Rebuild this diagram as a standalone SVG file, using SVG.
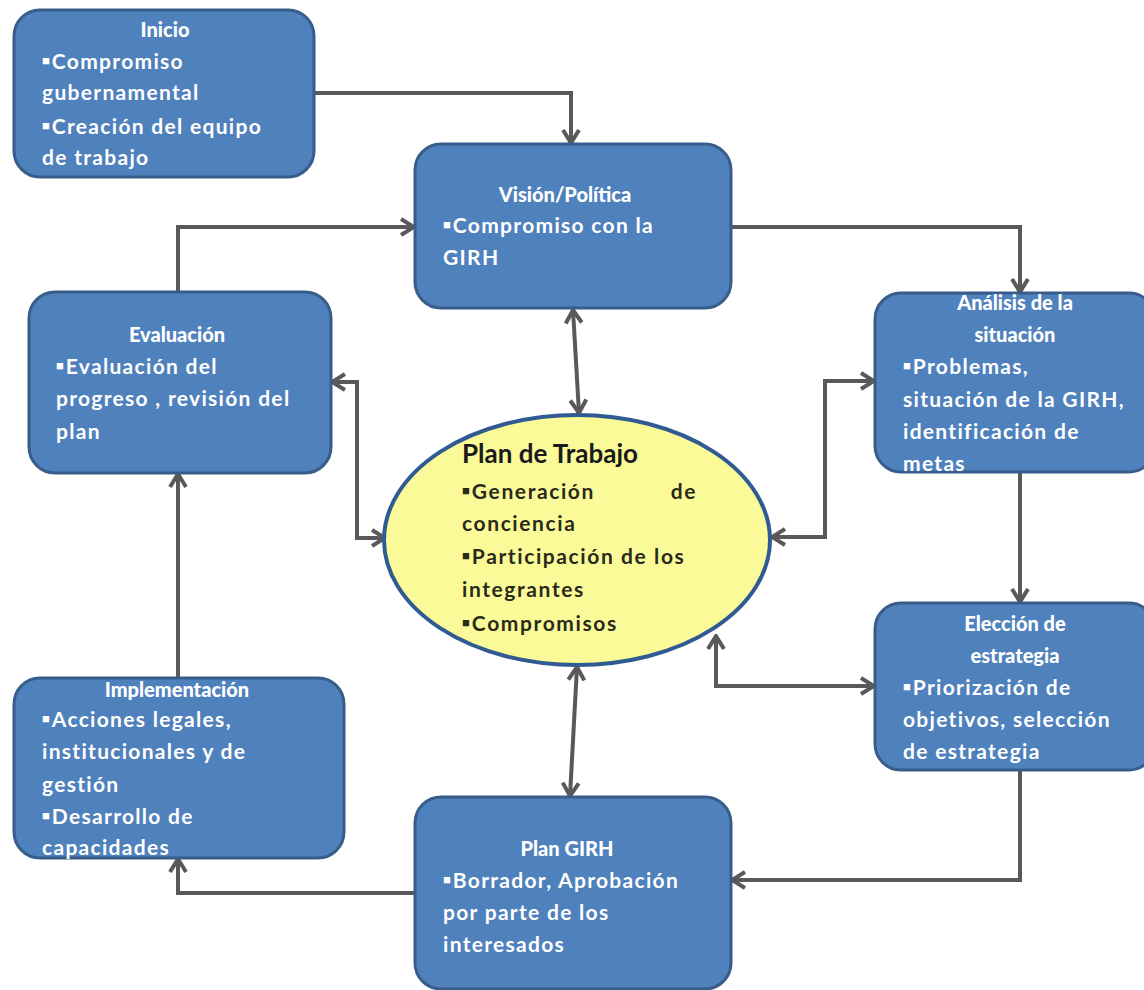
<svg xmlns="http://www.w3.org/2000/svg" width="1144" height="990" viewBox="0 0 1144 990">
<style>
.box{fill:#4f81bd;stroke:#385d8a;stroke-width:3}
.ell{fill:#fafa98;stroke:#2f5b92;stroke-width:4}
.t{font-family:Lato,"Liberation Sans",sans-serif;font-weight:900;font-size:20px;fill:#ffffff;text-anchor:middle}
.b{font-family:Lato,"Liberation Sans",sans-serif;font-weight:bold;font-size:21px;fill:#ffffff;letter-spacing:1.3px}
.et{font-family:Lato,"Liberation Sans",sans-serif;font-weight:bold;font-size:26px;fill:#1a1a1a}
.eb{font-family:Lato,"Liberation Sans",sans-serif;font-weight:bold;font-size:21px;fill:#2a2a1a;letter-spacing:1.6px}
.bu{font-size:13px;letter-spacing:2px}
.c{fill:none;stroke:#595959;stroke-width:4;stroke-linejoin:miter}
</style>
<defs>
<marker id="ah" markerUnits="userSpaceOnUse" viewBox="0 0 20 20" markerWidth="20" markerHeight="20" refX="18" refY="10" orient="auto-start-reverse">
<path d="M5,2 L18,10 L5,18" fill="none" stroke="#595959" stroke-width="4"/>
</marker>
</defs>
<g id="connectors">
<path class="c" d="M314,93 H571 V143" marker-end="url(#ah)"/>
<path class="c" d="M178,292 V227 H414" marker-end="url(#ah)"/>
<path class="c" d="M731,227 H1020 V292" marker-end="url(#ah)"/>
<path class="c" d="M1020,472 V602" marker-end="url(#ah)"/>
<path class="c" d="M1020,770 V880 H732" marker-end="url(#ah)"/>
<path class="c" d="M415,893 H178 V859" marker-end="url(#ah)"/>
<path class="c" d="M178,678 V474" marker-end="url(#ah)"/>
<path class="c" d="M573,310 L579,413" marker-start="url(#ah)" marker-end="url(#ah)"/>
<path class="c" d="M577,667 L570,796" marker-start="url(#ah)" marker-end="url(#ah)"/>
<path class="c" d="M332,382 H357 V538 H385" marker-start="url(#ah)" marker-end="url(#ah)"/>
<path class="c" d="M874,381 H825 V537 H772" marker-start="url(#ah)" marker-end="url(#ah)"/>
<path class="c" d="M874,686 H716 V636" marker-start="url(#ah)" marker-end="url(#ah)"/>
</g>
<g id="inicio">
<rect class="box" x="14" y="10" width="300" height="167" rx="26"/>
<text class="t" x="165" y="37">Inicio</text>
<text class="b" x="42" y="69"><tspan class="bu" dy="-4">■</tspan><tspan dy="4">Compromiso</tspan></text>
<text class="b" x="42" y="100">gubernamental</text>
<text class="b" x="42" y="134"><tspan class="bu" dy="-4">■</tspan><tspan dy="4">Creación del equipo</tspan></text>
<text class="b" x="42" y="165">de trabajo</text>
</g>
<g id="vision">
<rect class="box" x="415" y="144" width="316" height="164" rx="26"/>
<text class="t" x="565" y="202">Visión/Política</text>
<text class="b" x="443" y="233"><tspan class="bu" dy="-4">■</tspan><tspan dy="4">Compromiso con la</tspan></text>
<text class="b" x="443" y="265">GIRH</text>
</g>
<g id="analisis">
<rect class="box" x="875" y="293" width="280" height="179" rx="26"/>
<text class="t" x="1015" y="310">Análisis de la</text>
<text class="t" x="1015" y="342">situación</text>
<text class="b" x="903" y="374"><tspan class="bu" dy="-4">■</tspan><tspan dy="4">Problemas,</tspan></text>
<text class="b" x="903" y="407">situación de la GIRH,</text>
<text class="b" x="903" y="439">identificación de</text>
<text class="b" x="903" y="471">metas</text>
</g>
<g id="eleccion">
<rect class="box" x="875" y="603" width="280" height="167" rx="26"/>
<text class="t" x="1015" y="631">Elección de</text>
<text class="t" x="1015" y="663">estrategia</text>
<text class="b" x="903" y="695"><tspan class="bu" dy="-4">■</tspan><tspan dy="4">Priorización de</tspan></text>
<text class="b" x="903" y="727">objetivos, selección</text>
<text class="b" x="903" y="759">de estrategia</text>
</g>
<g id="plangirh">
<rect class="box" x="415" y="797" width="316" height="192" rx="26"/>
<text class="t" x="567" y="856">Plan GIRH</text>
<text class="b" x="443" y="888"><tspan class="bu" dy="-4">■</tspan><tspan dy="4">Borrador, Aprobación</tspan></text>
<text class="b" x="443" y="920">por parte de los</text>
<text class="b" x="443" y="952">interesados</text>
</g>
<g id="implementacion">
<rect class="box" x="14" y="678" width="330" height="180" rx="26"/>
<text class="t" x="177" y="697">Implementación</text>
<text class="b" x="42" y="727"><tspan class="bu" dy="-4">■</tspan><tspan dy="4">Acciones legales,</tspan></text>
<text class="b" x="42" y="759">institucionales y de</text>
<text class="b" x="42" y="792">gestión</text>
<text class="b" x="42" y="824"><tspan class="bu" dy="-4">■</tspan><tspan dy="4">Desarrollo de</tspan></text>
<text class="b" x="42" y="855">capacidades</text>
</g>
<g id="evaluacion">
<rect class="box" x="29" y="292" width="302" height="181" rx="26"/>
<text class="t" x="177" y="342">Evaluación</text>
<text class="b" x="56" y="374"><tspan class="bu" dy="-4">■</tspan><tspan dy="4">Evaluación del</tspan></text>
<text class="b" x="56" y="406">progreso , revisión del</text>
<text class="b" x="56" y="439">plan</text>
</g>
<g id="plantrabajo">
<ellipse class="ell" cx="577" cy="540" rx="193" ry="125"/>
<text class="et" x="462" y="463">Plan de Trabajo</text>
<text class="eb" x="462" y="499"><tspan class="bu" dy="-4">■</tspan><tspan dy="4">Generación</tspan></text>
<text class="eb" x="697" y="499" text-anchor="end">de</text>
<text class="eb" x="462" y="531">conciencia</text>
<text class="eb" x="462" y="564"><tspan class="bu" dy="-4">■</tspan><tspan dy="4">Participación de los</tspan></text>
<text class="eb" x="462" y="597">integrantes</text>
<text class="eb" x="462" y="631"><tspan class="bu" dy="-4">■</tspan><tspan dy="4">Compromisos</tspan></text>
</g>
</svg>
